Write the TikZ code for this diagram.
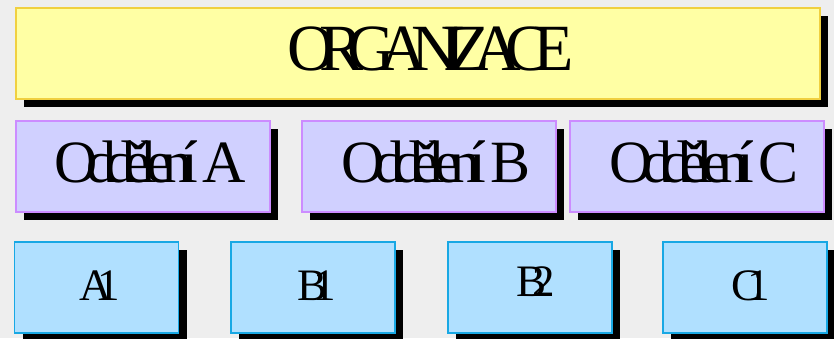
\documentclass[tikz,border=0pt]{standalone}
\usepackage{fontspec}
\setmainfont{Liberation Serif}
\newfontfamily\titlefont[LetterSpace=-24]{Liberation Serif}
\newfontfamily\deptfont[LetterSpace=-18]{Liberation Serif}
\newfontfamily\unitfont[LetterSpace=-32]{Liberation Serif}
\usetikzlibrary{shadows}
\definecolor{bgc}{RGB}{238,238,238}
\definecolor{yfill}{RGB}{255,255,164}
\definecolor{ydraw}{RGB}{240,208,64}
\definecolor{pfill}{RGB}{208,208,255}
\definecolor{pdraw}{RGB}{204,140,255}
\definecolor{bfill}{RGB}{176,224,255}
\definecolor{bdraw}{RGB}{24,168,228}
\tikzset{
  boxbase/.style={line width=1.2pt, inner sep=0pt,
    drop shadow={shadow xshift=8pt, shadow yshift=-8pt, fill=black, opacity=1}},
  titlebox/.style={boxbase, draw=ydraw, fill=yfill, minimum width=804pt, minimum height=91pt,
    font=\titlefont\fontsize{66}{70}\selectfont, text height=44pt, text depth=10pt},
  deptbox/.style={boxbase, draw=pdraw, fill=pfill, minimum width=254pt, minimum height=91pt,
    font=\deptfont\fontsize{60}{64}\selectfont, text height=40pt, text depth=8pt},
  unitbox/.style={boxbase, draw=bdraw, fill=bfill, minimum width=164pt, minimum height=91pt,
    font=\unitfont\fontsize{45}{50}\selectfont, text height=30pt, text depth=5pt}
}
\begin{document}
\begin{tikzpicture}[x=1pt,y=-1pt]
\fill[bgc] (0,0) rectangle (834,338);
\useasboundingbox (0,0) rectangle (834,338);
\node[titlebox] (org) at (418,53.5) {\hspace*{26pt}ORGANIZACE};
\node[deptbox] (da) at (143,166.5) {\hspace*{14pt}Oddělení A};
\node[deptbox] (db) at (429,166.5) {\hspace*{14pt}Oddělení B};
\node[deptbox] (dc) at (697,166.5) {\hspace*{14pt}Oddělení C};
\node[unitbox] (a1) at (96.5,287.5) {\hspace*{7pt}A1};
\node[unitbox] (b1) at (313,287.5) {\hspace*{7pt}B1};
\node[unitbox, text depth=12pt] (b2) at (530,287.5) {\hspace*{11pt}B2};
\node[unitbox] (c1) at (745,287.5) {\hspace*{12pt}C1};
\end{tikzpicture}
\end{document}
